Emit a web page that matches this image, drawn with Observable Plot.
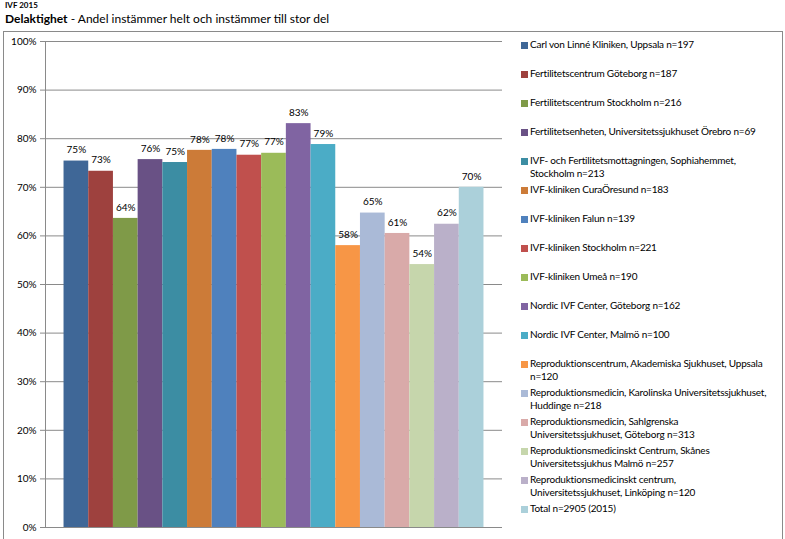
<!DOCTYPE html>
<html>
<head>
<meta charset="utf-8">
<script src="https://cdn.jsdelivr.net/npm/d3@7"></script>
<script src="https://cdn.jsdelivr.net/npm/@observablehq/plot@0.6"></script>
<style>
  html, body { margin: 0; padding: 0; background: #fff; }
  body { width: 785px; height: 539px; overflow: hidden; position: relative; font-family: Lato, "Open Sans", sans-serif; color: #000; }
  #sup { position: absolute; left: 5px; top: 0px; font-size: 8px; font-weight: bold; }
  #title { position: absolute; left: 5px; top: 11px; font-size: 12px; }
  #frame { position: absolute; left: 3px; top: 31px; width: 780px; height: 600px; border: 1px solid #8a8a8a; box-sizing: border-box; }
  #chart { position: absolute; left: 0px; top: 33px; }
  #legend { position: absolute; left: 521px; top: 38px; width: 258px; font-size: 10px; letter-spacing: -0.2px; }
  .item { height: 29px; position: relative; }
  .sw { position: absolute; left: 0; top: 4px; width: 7px; height: 7px; }
  .lab { position: absolute; left: 9px; top: 0; white-space: pre; line-height: 13px; }
</style>
</head>
<body>
<div id="frame"></div>
<div id="sup">IVF 2015</div>
<div id="title"><b>Delaktighet</b> - Andel instämmer helt och instämmer till stor del</div>
<div id="chart"></div>
<div id="legend"></div>
<script>
const categories = [
  "Carl von Linné Kliniken, Uppsala n=197",
  "Fertilitetscentrum Göteborg n=187",
  "Fertilitetscentrum Stockholm n=216",
  "Fertilitetsenheten, Universitetssjukhuset Örebro n=69",
  "IVF- och Fertilitetsmottagningen, Sophiahemmet,\nStockholm n=213",
  "IVF-kliniken CuraÖresund n=183",
  "IVF-kliniken Falun n=139",
  "IVF-kliniken Stockholm n=221",
  "IVF-kliniken Umeå n=190",
  "Nordic IVF Center, Göteborg n=162",
  "Nordic IVF Center, Malmö n=100",
  "Reproduktionscentrum, Akademiska Sjukhuset, Uppsala\nn=120",
  "Reproduktionsmedicin, Karolinska Universitetssjukhuset,\nHuddinge n=218",
  "Reproduktionsmedicin, Sahlgrenska\nUniversitetssjukhuset, Göteborg n=313",
  "Reproduktionsmedicinskt Centrum, Skånes\nUniversitetssjukhus Malmö n=257",
  "Reproduktionsmedicinskt centrum,\nUniversitetssjukhuset, Linköping n=120",
  "Total n=2905 (2015)"
];
const values = [0.754, 0.733, 0.636, 0.757, 0.751, 0.776, 0.778, 0.766, 0.770, 0.831, 0.788, 0.580, 0.647, 0.605, 0.541, 0.624, 0.700];
const colors = ["#3F6797", "#9E413E", "#7F9A48", "#695185", "#3C8DA3", "#CC7B38", "#4F81BD", "#C0504D", "#9BBB59", "#8064A2", "#4BACC6", "#F79646", "#AABAD7", "#D9AAA9", "#C6D6AC", "#BAB0C9", "#ABD0DA"];
const yTicks = [0, 0.1, 0.2, 0.3, 0.4, 0.5, 0.6, 0.7, 0.8, 0.9, 1.0];

const data = categories.map((name, i) => ({name, value: values[i]}));
const pct = d3.format(".0%");

const chart = Plot.plot({
  width: 505,
  height: 506,
  marginTop: 8,
  marginBottom: 12,
  marginLeft: 45,
  marginRight: 3,
  style: {fontFamily: "Lato, 'Open Sans', sans-serif", fontSize: "10px", background: "transparent", color: "#000"},
  x: {domain: categories, paddingInner: 0, paddingOuter: 0.75, round: false, axis: null},
  y: {domain: [0, 1], axis: null},
  color: {domain: categories, range: colors},
  marks: [
    Plot.ruleY(yTicks, {stroke: "#8a8a8a", strokeWidth: 1}),
    Plot.barY(data, {x: "name", y: "value", fill: "name"}),
    Plot.text(data, {x: "name", y: "value", text: d => pct(d.value), dy: -11, fontSize: 10, fill: "#000"}),
    Plot.axisY({ticks: yTicks, tickFormat: pct, tickSize: 5, tickPadding: 4, stroke: "#8a8a8a", fill: "#000", fontSize: 10, label: null}),
    Plot.frame({anchor: "left", stroke: "#8a8a8a"})
  ]
});
document.getElementById("chart").appendChild(chart);

const legend = document.getElementById("legend");
categories.forEach((name, i) => {
  const item = document.createElement("div");
  item.className = "item";
  const sw = document.createElement("div");
  sw.className = "sw";
  sw.style.background = colors[i];
  const lab = document.createElement("div");
  lab.className = "lab";
  lab.textContent = name;
  item.appendChild(sw);
  item.appendChild(lab);
  legend.appendChild(item);
});
</script>
</body>
</html>
